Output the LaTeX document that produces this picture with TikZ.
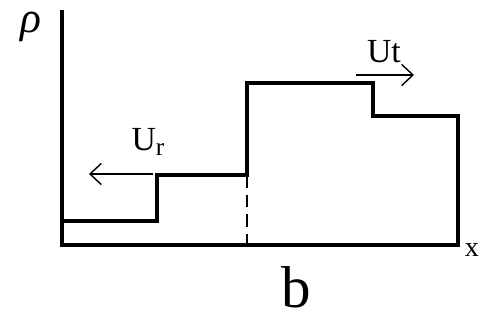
\documentclass[tikz,border=0pt]{standalone}
\usepackage{fontspec}
\setmainfont{Liberation Serif}
\usetikzlibrary{arrows.meta}

\begin{document}
\begin{tikzpicture}[
  x=0.025cm, y=-0.025cm,
  axis/.style  = {line width=2.2pt},
  level/.style = {line width=2.2pt, line join=miter},
  wave/.style  = {-{Straight Barb[length=8pt,width=15pt]}, line width=1pt},
  lbl/.style   = {inner sep=0pt, font=\fontsize{24}{24}\selectfont},
]
  \useasboundingbox (0,0) rectangle (480,320);
  % axes
  \coordinate (orig) at (62,245);
  \coordinate (ytop) at (62,10);
  \coordinate (xend) at (460,245);
  \draw[axis] (ytop) -- (orig) -- (xend);
  \node[inner sep=0pt, font=\fontsize{31}{31}\selectfont\itshape] (rho) at (31,27) {ρ};
  \node[lbl, font=\fontsize{20}{20}\selectfont] (xlab) at (472,250) {x};
  % density profile
  \coordinate (p0) at (62,221);
  \coordinate (p1) at (157,221);
  \coordinate (p2) at (157,175);
  \coordinate (p3) at (247,175);
  \coordinate (p4) at (247,83);
  \coordinate (p5) at (373,83);
  \coordinate (p6) at (373,116);
  \coordinate (p7) at (458,116);
  \coordinate (p8) at (458,245);
  \draw[level] (p0) -- (p1) -- (p2) -- (p3) -- (p4) -- (p5) -- (p6) -- (p7) -- (p8);
  \coordinate (foot) at (247,245);
  \draw[line width=0.8pt, dash pattern=on 9pt off 5pt] (p3) -- (foot);
  % velocities
  \coordinate (ur0) at (153,174);
  \coordinate (ur1) at (89,174);
  \draw[wave] (ur0) -- (ur1);
  \node[lbl] (ur) at (148,142) {U\raisebox{-0.35ex}{\fontsize{18}{18}\selectfont r}};
  \coordinate (ut0) at (356,75);
  \coordinate (ut1) at (414,75);
  \draw[wave] (ut0) -- (ut1);
  \node[lbl] (ut) at (384,52) {Ut};
  % caption
  \node[inner sep=0pt, font=\fontsize{42}{42}\selectfont] (cap) at (296,287) {b};
\end{tikzpicture}
\end{document}
